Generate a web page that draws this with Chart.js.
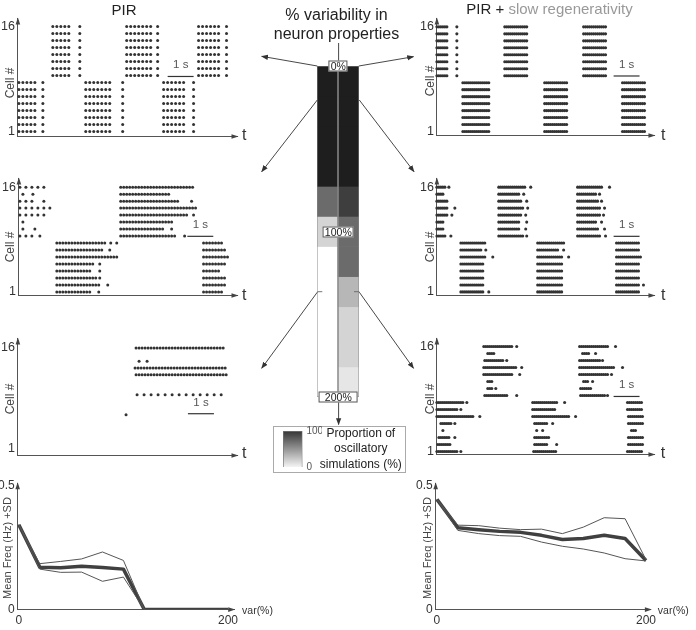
<!DOCTYPE html>
<html><head><meta charset="utf-8">
<script src="https://cdn.jsdelivr.net/npm/chart.js@4.4.1/dist/chart.umd.min.js"></script>
<style>
html,body{margin:0;padding:0;background:#fff;}
#root{position:relative;width:696px;height:630px;overflow:hidden;font-family:"Liberation Sans",Arial,sans-serif;color:#333;}
#root canvas{position:absolute;z-index:1;}
.lbl{position:absolute;transform:translate(-50%,-50%);white-space:nowrap;line-height:1;z-index:3;}
.rot{transform:translate(-50%,-50%) rotate(-90deg);}
.pbox{position:absolute;transform:translate(-50%,-50%);background:#fff;border:1px solid #555;font-size:10.5px;line-height:9px;padding:0 1px;white-space:nowrap;z-index:4;color:#222;}
#conn{position:absolute;left:0;top:0;z-index:2;}
#legendBox{position:absolute;box-sizing:border-box;border:1px solid #aaa;background:#fff;z-index:0;}
</style></head><body><div id="root"></div>
<script>
// ---------------- DATA ----------------
// Spike rasters: one entry per cell (row 1 .. row 16). Each entry lists [offset, pattern]:
// offset in steps of 1/26 s from t = 0, pattern: '*' = spike, '.' = no spike, one char per step.
const TICKS_PER_SECOND = 26;
const rasterTicks = [1, 16];

const pirRowLow0  = [[1,"*...*...*...*...*"],[25,"*"],[68,"*...*...*...*...*...*...*"],[105,"*"],[146,"*...*...*...*...*...*"],[176,"*"]];
const pirRowHigh0 = [[35,"*...*...*...*...*"],[62,"*"],[109,"*...*...*...*...*...*...*"],[140,"*"],[181,"*...*...*...*...*...*"],[209,"*"]];
const rasterPIR0 = [pirRowLow0,pirRowLow0,pirRowLow0,pirRowLow0,pirRowLow0,pirRowLow0,pirRowLow0,pirRowLow0,
                    pirRowHigh0,pirRowHigh0,pirRowHigh0,pirRowHigh0,pirRowHigh0,pirRowHigh0,pirRowHigh0,pirRowHigh0];

const rasterPIR100 = [
 [[38,"*..*..*..*..*.."+"*..*..*..*..*.."+"*..*"],[80,"*"],[185,"*..*..*..*..*.."+"*..*"]],
 [[38,"*..*..*..*..*.."+"*..*..*..*..*.."+"*..*..*..*..*"],[89,"*"],[185,"*..*..*..*..*.."+"*..*..*"]],
 [[38,"*..*..*..*..*.."+"*..*..*..*..*.."+"*..*..*..*"],[81,"*"],[185,"*..*..*..*..*.."+"*..*..*"]],
 [[38,"*..*..*..*..*.."+"*..*..*..*..*.."+"*..*"],[81,"*"],[185,"*..*..*..*..*.."+"*"]],
 [[38,"*..*..*..*..*.."+"*..*..*..*..*.."+"*..*..*"],[81,"*"],[185,"*..*..*..*..*.."+"*..*..*"]],
 [[38,"*..*..*..*..*.."+"*..*..*..*..*.."+"*..*..*..*..*.."+"*..*..*..*..*.."+"*"],[185,"*..*..*..*..*.."+"*..*..*..*"]],
 [[38,"*..*..*..*..*.."+"*..*..*..*..*.."+"*..*..*..*..*.."+"*"],[91,"*"],[185,"*..*..*..*..*.."+"*..*..*"]],
 [[38,"*..*..*..*..*.."+"*..*..*..*..*.."+"*..*..*..*..*.."+"*..*"],[92,"*"],[98,"*"],[185,"*..*..*..*..*.."+"*..*"]],
 [[1,"*.....*.....*"],[21,"*"],[102,"*..*..*..*..*.."+"*..*..*..*..*.."+"*..*..*..*..*.."+"*..*..*..*"],[166,"*"]],
 [[4,"*"],[16,"*"],[102,"*..*..*..*..*.."+"*..*..*..*..*.."+"*..*..*..*..*.."],[153,"*"]],
 [[4,"*"],[102,"*..*..*..*..*.."+"*..*..*..*..*.."+"*..*..*..*..*.."+"*..*..*"]],
 [[1,"*.....*.....*.....*.....*"],[102,"*..*..*..*..*.."+"*..*..*..*..*.."+"*..*..*..*..*.."+"*..*..*..*..*.."+"*..*..*"],[175,"*"]],
 [[1,"*.....*.....*.....*.....*.....*"],[102,"*..*..*..*..*.."+"*..*..*..*..*.."+"*..*..*..*..*.."+"*..*..*..*..*.."+"*..*..*..*..*.."+"*"]],
 [[1,"*.....*.....*"],[25,"*"],[102,"*..*..*..*..*.."+"*..*..*..*..*.."+"*..*..*..*..*.."+"*..*..*..*..*.."],[173,"*"]],
 [[4,"*"],[14,"*"],[102,"*..*..*..*..*.."+"*..*..*..*..*.."+"*..*..*..*..*.."+"*..*"]],
 [[1,"*.....*.....*.....*.....*"],[102,"*..*..*..*..*.."+"*..*..*..*..*.."+"*..*..*..*..*.."+"*..*..*..*..*.."+"*..*..*..*..*.."]]
];

const rasterPIR200 = [
 [],[],[],[],[],
 [[108,"*"]],
 [],[],
 [[119,"*......*......*......"+"*......*......*......"+"*......*......*......"+"*......*......*......"+"*"]],
 [],[],
 [[118,"*..*..*..*..*.."+"*..*..*..*..*.."+"*..*..*..*..*.."+"*..*..*..*..*.."+"*..*..*..*..*.."+"*..*..*..*..*.."+"*"]],
 [[117,"*..*..*..*..*.."+"*..*..*..*..*.."+"*..*..*..*..*.."+"*..*..*..*..*.."+"*..*..*..*..*.."+"*..*..*..*..*.."+"*"]],
 [[121,"*.......*"]],
 [],
 [[118,"*..*..*..*..*.."+"*..*..*..*..*.."+"*..*..*..*..*.."+"*..*..*..*..*.."+"*..*..*..*..*.."+"*..*..*..*..*.."]]
];

const slowRowLow0  = [[26,"*.*.*.*.*."+"*.*.*.*.*."+"*.*.*.*"],[108,"*.*.*.*.*."+"*.*.*.*.*."+"*.*"],[186,"*.*.*.*.*."+"*.*.*.*.*."+"*.*"]];
const slowRowHigh0 = [[0,"*.*.*.*.*.*"],[20,"*"],[68,"*.*.*.*.*."+"*.*.*.*.*."+"*.*"],[147,"*.*.*.*.*."+"*.*.*.*.*."+"*.*"]];
const rasterSlow0 = [slowRowLow0,slowRowLow0,slowRowLow0,slowRowLow0,slowRowLow0,slowRowLow0,slowRowLow0,slowRowLow0,
                     slowRowHigh0,slowRowHigh0,slowRowHigh0,slowRowHigh0,slowRowHigh0,slowRowHigh0,slowRowHigh0,slowRowHigh0];

const rasterSlow100 = [
 [[24,"*.*.*.*.*."+"*.*.*.*.*."+"*.*"],[52,"*"],[101,"*.*.*.*.*."+"*.*.*.*.*."+"*.*.*"],[180,"*.*.*.*.*."+"*.*.*.*.*."+"*.*"]],
 [[24,"*.*.*.*.*."+"*.*.*.*.*."+"*.*"],[101,"*.*.*.*.*."+"*.*.*.*.*."+"*.*.*"],[180,"*.*.*.*.*."+"*.*.*.*.*."+"*.*"],[207,"*"]],
 [[24,"*.*.*.*.*."+"*.*.*.*.*."+"*.*"],[101,"*.*.*.*.*."+"*.*.*.*.*."+"*.*.*"],[180,"*.*.*.*.*."+"*.*.*.*.*."+"*.*"]],
 [[24,"*.*.*.*.*."+"*.*.*.*.*."+"*.*"],[101,"*.*.*.*.*."+"*.*.*.*.*."+"*.*.*"],[180,"*.*.*.*.*."+"*.*.*.*.*."+"*.*"]],
 [[24,"*.*.*.*.*."+"*.*.*.*.*."+"*.*"],[101,"*.*.*.*.*."+"*.*.*.*.*."+"*.*.*"],[180,"*.*.*.*.*."+"*.*.*.*.*."+"*.*"]],
 [[24,"*.*.*.*.*."+"*.*.*.*.*."+"*.*.*"],[56,"*"],[101,"*.*.*.*.*."+"*.*.*.*.*."+"*.*.*"],[132,"*"],[180,"*.*.*.*.*."+"*.*.*.*.*."+"*.*.*"]],
 [[24,"*.*.*.*.*."+"*.*.*.*.*."+"*"],[49,"*"],[101,"*.*.*.*.*."+"*.*.*.*.*."+"*"],[127,"*"],[180,"*.*.*.*.*."+"*.*.*.*.*."+"*.*"]],
 [[24,"*.*.*.*.*."+"*.*.*.*.*."+"*.*.*"],[101,"*.*.*.*.*."+"*.*.*.*.*."+"*.*.*.*"],[180,"*.*.*.*.*."+"*.*.*.*.*."+"*.*"]],
 [[0,"*.*.*.*.*"],[14,"*"],[62,"*.*.*.*.*."+"*.*.*.*.*."+"*.*.*"],[90,"*"],[141,"*.*.*.*.*."+"*.*.*.*.*."+"*.*"],[169,"*"]],
 [[0,"*.*.*.*"],[62,"*.*.*.*.*."+"*.*.*.*.*."+"*"],[89,"*"],[141,"*.*.*.*.*."+"*.*.*.*.*."+"*"],[168,"*"]],
 [[0,"*.*.*.*"],[62,"*.*.*.*.*."+"*.*.*.*.*."+"*"],[90,"*"],[141,"*.*.*.*.*."+"*.*.*.*.*."],[165,"*"]],
 [[0,"*.*.*.*.*.*"],[15,"*"],[62,"*.*.*.*.*."+"*.*.*.*.*."+"*.*"],[89,"*"],[141,"*.*.*.*.*."+"*.*.*.*.*."+"*.*"],[167,"*"]],
 [[0,"*.*.*.*.*.*"],[18,"*"],[62,"*.*.*.*.*."+"*.*.*.*.*."+"*.*.*"],[91,"*"],[141,"*.*.*.*.*."+"*.*.*.*.*."+"*.*"],[168,"*"]],
 [[0,"*.*.*.*.*.*"],[62,"*.*.*.*.*."+"*.*.*.*.*."+"*.*"],[90,"*"],[141,"*.*.*.*.*."+"*.*.*.*.*."+"*"],[165,"*"]],
 [[0,"*.*.*.*"],[62,"*.*.*.*.*."+"*.*.*.*.*."+"*"],[87,"*"],[141,"*.*.*.*.*."+"*.*.*.*.*."],[163,"*"]],
 [[0,"*.*.*.*.*"],[12,"*"],[62,"*.*.*.*.*."+"*.*.*.*.*."+"*.*.*.*"],[94,"*"],[141,"*.*.*.*.*."+"*.*.*.*.*."+"*.*.*"],[173,"*"]]
];

const rasterSlow200 = [
 [[0,"*.*.*.*.*."+"*.*.*.*.*."+"*"],[24,"*"],[97,"*.*.*.*.*."+"*.*.*.*.*."+"*.*"],[191,"*.*.*.*.*."+"*.*.*"]],
 [[1,"*.*.*.*.*."+"*.*"],[98,"*.*.*.*.*."+"*.*"],[120,"*"],[192,"*.*.*.*.*."+"*.*.*"]],
 [[2,"*.*.*.*.*.*"],[18,"*"],[98,"*.*.*.*.*."+"*.*.*"],[192,"*.*.*.*.*."+"*.*.*"]],
 [[6,"*"],[100,"*"],[106,"*"],[195,"*.*.*"]],
 [[4,"*.*.*.*.*.*"],[18,"*"],[98,"*.*.*.*.*."+"*.*"],[116,"*"],[192,"*.*.*.*.*."+"*.*.*"]],
 [[0,"*.*.*.*.*."+"*.*.*.*.*."+"*.*.*.*.*."+"*.*.*.*"],[43,"*"],[96,"*.*.*.*.*."+"*.*.*.*.*."+"*.*.*.*.*."+"*.*.*.*"],[139,"*"],[192,"*.*.*.*.*."+"*.*.*"]],
 [[0,"*.*.*.*.*."+"*.*.*.*.*."+"*"],[24,"*"],[96,"*.*.*.*.*."+"*.*.*.*.*."+"*.*"],[191,"*.*.*.*.*."+"*.*.*"]],
 [[0,"*.*.*.*.*."+"*.*.*.*.*."+"*.*.*.*"],[30,"*"],[96,"*.*.*.*.*."+"*.*.*.*.*."+"*.*.*"],[128,"*"],[191,"*.*.*.*.*."+"*.*.*"]],
 [[48,"*.*.*.*.*."+"*.*.*.*.*."+"*.*"],[80,"*"],[144,"*.*.*.*.*."+"*.*.*.*.*."+"*.*.*"],[171,"*"]],
 [[51,"*.*.*"],[59,"*"],[144,"*.*.*.*.*.*"]],
 [[51,"*.*.*"],[147,"*.*.*"],[156,"*"]],
 [[47,"*.*.*.*.*."+"*.*.*.*.*."+"*.*.*.*.*."],[83,"*"],[143,"*.*.*.*.*."+"*.*.*.*.*."+"*.*.*.*.*."],[175,"*"]],
 [[47,"*.*.*.*.*."+"*.*.*.*.*."+"*.*.*.*.*."+"*.*"],[85,"*"],[143,"*.*.*.*.*."+"*.*.*.*.*."+"*.*.*.*.*."+"*.*.*"],[186,"*"]],
 [[48,"*.*.*.*.*."+"*.*.*.*.*."],[70,"*"],[143,"*.*.*.*.*."+"*.*.*.*.*."+"*"],[166,"*"]],
 [[51,"*.*.*.*"],[146,"*.*.*.*"],[159,"*"]],
 [[47,"*.*.*.*.*."+"*.*.*.*.*."+"*.*.*.*.*."],[80,"*"],[143,"*.*.*.*.*."+"*.*.*.*.*."+"*.*.*.*.*."],[179,"*"]]
];

// scale bars (1 s), start time (s) and row level
const scaleBarStart = [5.77, 6.49, 6.53, 6.81, 6.81, 6.81];
const scaleBarRow   = [8.86, 8.96, 6.16, 8.96, 8.96, 8.86];

// mean frequency vs variability
const varLevels = [0, 20, 40, 60, 80, 100, 120, 140, 160, 180, 200];
const freqMeanPIR   = [0.342, 0.171, 0.169, 0.175, 0.170, 0.163, 0, 0, 0, 0, 0];
const freqUpperPIR  = [0.342, 0.185, 0.194, 0.204, 0.232, 0.198, 0, 0, 0, 0, 0];
const freqLowerPIR  = [0.342, 0.163, 0.150, 0.151, 0.114, 0.131, 0, 0, 0, 0, 0];
const freqMeanSlow  = [0.444, 0.330, 0.322, 0.315, 0.311, 0.299, 0.282, 0.286, 0.299, 0.286, 0.198];
const freqUpperSlow = [0.444, 0.340, 0.338, 0.328, 0.322, 0.324, 0.306, 0.332, 0.370, 0.366, 0.201];
const freqLowerSlow = [0.444, 0.319, 0.306, 0.298, 0.295, 0.272, 0.255, 0.244, 0.228, 0.205, 0.196];
const freqXTicks = [0, 200];
const freqYTicks = [0, 0.5];

// proportion of oscillatory simulations (%) per variability level
const oscPropPIR  = [100, 100, 100, 100, 66, 19, 0, 0, 0, 0, 0];
const oscPropSlow = [100, 100, 100, 100, 86, 66, 66, 32, 19, 19, 11];
const colorbarTicks = [0, 100];

// ---------------- DRAWING ----------------
Chart.defaults.font.family = '"Liberation Sans", Arial, sans-serif';
Chart.defaults.color = '#333';
const root = document.getElementById('root');

function grayOf(p) { const v = Math.round(255 - p * 2.25); return 'rgb(' + v + ',' + v + ',' + v + ')'; }

function baseOptions() {
  return { animation: false, responsive: false, devicePixelRatio: 1, events: [], layout: { padding: 0 },
           plugins: { legend: { display: false }, tooltip: { enabled: false } } };
}

// place a chart so that its chart area lands on the given page rectangle
function place(makeConfig, area) {
  const probe = document.createElement('canvas');
  probe.width = 400; probe.height = 300;
  root.appendChild(probe);
  let ch = new Chart(probe, makeConfig());
  const a = ch.chartArea;
  const extraW = 400 - (a.right - a.left), extraH = 300 - (a.bottom - a.top);
  ch.destroy(); root.removeChild(probe);
  const cv = document.createElement('canvas');
  cv.width = Math.round(area.width + extraW); cv.height = Math.round(area.height + extraH);
  cv.style.width = cv.width + 'px'; cv.style.height = cv.height + 'px';
  root.appendChild(cv);
  ch = new Chart(cv, makeConfig());
  const b = ch.chartArea;
  ch.pageLeft = area.left - b.left; ch.pageTop = area.top - b.top;
  cv.style.left = ch.pageLeft + 'px'; cv.style.top = ch.pageTop + 'px';
  return ch;
}

const axisArrows = {
  id: 'axisArrows',
  afterDraw(chart) {
    const { ctx, chartArea: a } = chart;
    ctx.save(); ctx.fillStyle = '#444';
    ctx.beginPath(); ctx.moveTo(a.left, a.top - 1); ctx.lineTo(a.left - 2.3, a.top + 6); ctx.lineTo(a.left + 2.3, a.top + 6); ctx.closePath(); ctx.fill();
    ctx.beginPath(); ctx.moveTo(a.right + 1, a.bottom); ctx.lineTo(a.right - 6, a.bottom - 2.3); ctx.lineTo(a.right - 6, a.bottom + 2.3); ctx.closePath(); ctx.fill();
    ctx.restore();
  }
};

function label(html, x, y, style, rotate) {
  const d = document.createElement('div');
  d.className = 'lbl' + (rotate ? ' rot' : '');
  d.innerHTML = html;
  d.style.left = x + 'px'; d.style.top = y + 'px';
  Object.assign(d.style, style || {});
  root.appendChild(d);
  return d;
}

function rasterConfig(rows, bi, yr, xmax, radius) {
  return function () {
    const pts = [];
    rows.forEach((row, i) => row.forEach(([off, pat]) => {
      for (let j = 0; j < pat.length; j++) if (pat[j] === '*') pts.push({ x: (off + j) / TICKS_PER_SECOND, y: i + 1 });
    }));
    const o = baseOptions();
    o.scales = {
      x: { type: 'linear', min: 0, max: xmax, grid: { display: false, drawTicks: false }, border: { display: true, color: '#555', width: 1 }, ticks: { display: false } },
      y: { type: 'linear', min: yr[0], max: yr[1], grid: { display: false, drawTicks: false }, border: { display: true, color: '#555', width: 1 },
           ticks: { color: '#333', font: { size: 12.5 }, padding: 3 },
           afterBuildTicks: s => { s.ticks = rasterTicks.map(v => ({ value: v })); } }
    };
    return {
      type: 'scatter',
      data: { datasets: [
        { data: pts, pointRadius: radius, pointHoverRadius: radius, backgroundColor: '#333', borderColor: '#333', pointBorderWidth: 0, clip: false },
        { data: [{ x: scaleBarStart[bi], y: scaleBarRow[bi] }, { x: scaleBarStart[bi] + 1, y: scaleBarRow[bi] }], showLine: true, borderColor: '#333', borderWidth: 1.2, pointRadius: 0, clip: false }
      ] },
      options: o,
      plugins: [axisArrows]
    };
  };
}

const panels = [
  { rows: rasterPIR0,    area: { left: 18,  top: 18,    width: 220,   height: 118 },   y: [0.286, 17.143], r: 1.5, cell: [9.7, 83],    t: [244.3, 134.5] },
  { rows: rasterPIR100,  area: { left: 19,  top: 178,   width: 219,   height: 117.3 }, y: [0.486, 17.24],  r: 1.5, cell: [9.5, 246.7], t: [244.3, 295] },
  { rows: rasterPIR200,  area: { left: 18,  top: 338.3, width: 219.3, height: 116.7 }, y: [-0.09, 17.41],  r: 1.5, cell: [9.7, 399],   t: [244.3, 453] },
  { rows: rasterSlow0,   area: { left: 437, top: 18.3,  width: 218,   height: 117 },   y: [0.43, 17.2],    r: 1.55, cell: [429.7, 81],  t: [663.3, 134.5] },
  { rows: rasterSlow100, area: { left: 437, top: 178,   width: 218,   height: 117.3 }, y: [0.486, 17.24],  r: 1.55, cell: [429.5, 246.7], t: [663.3, 294.5] },
  { rows: rasterSlow200, area: { left: 437, top: 338,   width: 218,   height: 116 },   y: [0.57, 17.14],   r: 1.55, cell: [429.7, 399], t: [663, 453] }
];

panels.forEach((p, i) => {
  const ch = place(rasterConfig(p.rows, i, p.y, p.area.width / TICKS_PER_SECOND, p.r), p.area);
  const bx = ch.pageLeft + ch.scales.x.getPixelForValue(scaleBarStart[i] + 0.5);
  const by = ch.pageTop + ch.scales.y.getPixelForValue(scaleBarRow[i]);
  label('1 s', bx, by - 11, { fontSize: '11.5px', color: '#555' });
  label('Cell #', p.cell[0], p.cell[1], { fontSize: '12px', color: '#444' }, true);
  label('t', p.t[0], p.t[1], { fontSize: '16px', color: '#333' });
});

// frequency charts
function freqConfig(mean, upper, lower, xr) {
  return function () {
    const pts = arr => varLevels.map((v, i) => ({ x: v, y: arr[i] }));
    const o = baseOptions();
    o.scales = {
      x: { type: 'linear', min: xr[0], max: xr[1], grid: { display: false, drawTicks: false }, border: { display: true, color: '#555', width: 1 },
           ticks: { color: '#333', font: { size: 12 }, padding: 4, maxRotation: 0 },
           afterBuildTicks: s => { s.ticks = freqXTicks.map(v => ({ value: v })); } },
      y: { type: 'linear', min: 0, max: 0.509, grid: { display: false, drawTicks: false }, border: { display: true, color: '#555', width: 1 },
           ticks: { color: '#333', font: { size: 12 }, padding: 3 },
           afterBuildTicks: s => { s.ticks = freqYTicks.map(v => ({ value: v })); } }
    };
    return {
      type: 'line',
      data: { datasets: [
        { data: pts(upper), borderColor: '#555', borderWidth: 1, pointRadius: 0, tension: 0 },
        { data: pts(lower), borderColor: '#555', borderWidth: 1, pointRadius: 0, tension: 0 },
        { data: pts(mean), borderColor: '#404040', borderWidth: 3.5, pointRadius: 0, tension: 0, borderJoinStyle: 'round' }
      ] },
      options: o,
      plugins: [axisArrows]
    };
  };
}
place(freqConfig(freqMeanPIR, freqUpperPIR, freqLowerPIR, [-1.1, 205.9]), { left: 17.3, top: 482.7, width: 220.7, height: 126.6 });
place(freqConfig(freqMeanSlow, freqUpperSlow, freqLowerSlow, [-1.2, 204.7]), { left: 436, top: 482.7, width: 219, height: 126.6 });
label('Mean Freq (Hz) +SD', 7.2, 547.5, { fontSize: '11px', color: '#444' }, true);
label('Mean Freq (Hz) +SD', 427.2, 547.5, { fontSize: '11px', color: '#444' }, true);
label('var(%)', 257.5, 610, { fontSize: '10.5px', color: '#333' });
label('var(%)', 673.3, 610, { fontSize: '10.5px', color: '#333' });

// central variability bar
const varStep = varLevels[1] - varLevels[0];
const columnOutline = {
  id: 'columnOutline',
  afterDatasetsDraw(chart) {
    const { ctx, chartArea: a } = chart;
    const meta = chart.getDatasetMeta(0);
    ctx.save(); ctx.strokeStyle = '#8a8a8a'; ctx.lineWidth = 1;
    meta.data.forEach(el => { ctx.strokeRect(el.x - el.width / 2, a.top, el.width, a.bottom - a.top); });
    ctx.restore();
  }
};
const barChart = place(function () {
  const o = baseOptions();
  o.scales = { x: { display: false }, y: { display: false, reverse: true, min: 0, max: varLevels[varLevels.length - 1] + varStep } };
  return {
    type: 'bar',
    data: { labels: ['PIR', 'PIR + slow regenerativity'],
      datasets: varLevels.map((v, i) => ({
        data: [[v, v + varStep], [v, v + varStep]],
        backgroundColor: [grayOf(oscPropPIR[i]), grayOf(oscPropSlow[i])],
        borderWidth: 0, barPercentage: 1, categoryPercentage: 1, grouped: false
      })) },
    options: o,
    plugins: [columnOutline]
  };
}, { left: 317.3, top: 66, width: 42, height: 330.7 });

function barBox(text, value, pad) {
  const y = barChart.pageTop + barChart.scales.y.getPixelForValue(value);
  const x = barChart.pageLeft + (barChart.chartArea.left + barChart.chartArea.right) / 2;
  const d = document.createElement('div');
  d.className = 'pbox'; d.textContent = text;
  d.style.left = x + 'px'; d.style.top = y + 'px';
  if (pad) d.style.padding = pad;
  root.appendChild(d);
}
barBox('0%', 0);
barBox('100%', 100 + varStep / 2);
barBox('200%', 200 + varStep, '0 5px');

// connectors
const svgNS = 'http://www.w3.org/2000/svg';
root.insertAdjacentHTML('beforeend',
 '<svg id="conn" width="696" height="630" xmlns="' + svgNS + '">' +
 '<defs><marker id="ah" viewBox="0 0 10 10" refX="9" refY="5" markerWidth="7" markerHeight="7" orient="auto" markerUnits="userSpaceOnUse">' +
 '<path d="M0,1.2 L10,5 L0,8.8 z" fill="#333"/></marker></defs>' +
 '<g stroke="#333" stroke-width="0.9" fill="none">' +
 '<line x1="338.6" y1="43" x2="338.6" y2="66"/>' +
 '<line x1="317.3" y1="66" x2="261.7" y2="56.3" marker-end="url(#ah)"/>' +
 '<line x1="358.8" y1="66" x2="413.5" y2="56.7" marker-end="url(#ah)"/>' +
 '<line x1="317.3" y1="100" x2="261.7" y2="171.7" marker-end="url(#ah)"/>' +
 '<line x1="359.3" y1="100" x2="414" y2="171.7" marker-end="url(#ah)"/>' +
 '<line x1="317.3" y1="291.7" x2="322.3" y2="291.7" stroke="#666"/>' +
 '<line x1="317.3" y1="292.2" x2="261.7" y2="368.3" marker-end="url(#ah)"/>' +
 '<line x1="354" y1="291.7" x2="359.3" y2="291.7" stroke="#666"/>' +
 '<line x1="359.3" y1="292.2" x2="413.5" y2="368.3" marker-end="url(#ah)"/>' +
 '<line x1="338.6" y1="401.7" x2="338.6" y2="424.5" marker-end="url(#ah)"/>' +
 '</g></svg>');

// colour-bar legend
const lb = document.createElement('div');
lb.id = 'legendBox';
Object.assign(lb.style, { left: '273.3px', top: '426px', width: '132.4px', height: '46.7px' });
root.appendChild(lb);
place(function () {
  const o = baseOptions();
  o.scales = {
    x: { display: false },
    y: { position: 'right', min: 0, max: 100, grid: { display: false, drawTicks: false }, border: { display: false },
         ticks: { color: '#555', font: { size: 10 }, padding: 4 },
         afterBuildTicks: s => { s.ticks = colorbarTicks.map(v => ({ value: v })); } }
  };
  return {
    type: 'bar',
    data: { labels: [''], datasets: [{ data: [colorbarTicks[1]], barPercentage: 1, categoryPercentage: 1, borderWidth: 1, borderColor: '#777',
      backgroundColor: c => {
        const a = c.chart.chartArea; if (!a) return '#888';
        const g = c.chart.ctx.createLinearGradient(0, a.top, 0, a.bottom);
        g.addColorStop(0, grayOf(colorbarTicks[1] - 10)); g.addColorStop(1, grayOf(colorbarTicks[0] + 5));
        return g;
      } }] },
    options: o
  };
}, { left: 282.7, top: 430.7, width: 14, height: 36 });
label('Proportion of<br>oscillatory<br>simulations (%)', 360.8, 448.8, { fontSize: '12px', lineHeight: '15.4px', textAlign: 'center', color: '#222' });

// titles
label('PIR', 124, 8.5, { fontSize: '15px', color: '#222' });
label('PIR + <span style="color:#999">slow regenerativity</span>', 549.5, 8, { fontSize: '15px', color: '#222' });
label('% variability in<br>neuron properties', 336.5, 23.5, { fontSize: '16px', lineHeight: '19.5px', textAlign: 'center', color: '#222' });
</script></body></html>
